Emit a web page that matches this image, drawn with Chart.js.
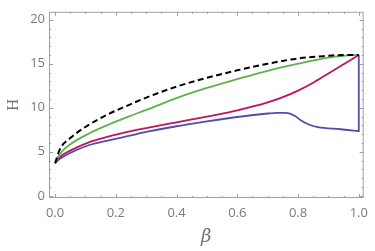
<!DOCTYPE html>
<html>
<head>
<meta charset="utf-8">
<script src="https://cdn.jsdelivr.net/npm/chart.js@4/dist/chart.umd.min.js"></script>
<style>
  html, body { margin: 0; padding: 0; background: #fff; }
  #wrap { width: 375px; height: 251px; }
</style>
</head>
<body>
<div id="wrap"><canvas id="chart" width="375" height="251"></canvas></div>
<script>
// values
var betaBlack = [0, 0.016, 0.048, 0.113, 0.177, 0.242, 0.3, 0.4, 0.5, 0.6, 0.7, 0.8, 0.9, 0.95, 1.0];
var hBlack    = [3.7, 5.3, 6.5, 8.1, 9.3, 10.3, 11.15, 12.4, 13.4, 14.25, 15.0, 15.6, 15.9, 16.0, 16.0];

var betaGreen = [0, 0.016, 0.048, 0.113, 0.177, 0.242, 0.3, 0.4, 0.5, 0.6, 0.7, 0.8, 0.9, 0.95, 1.0];
var hGreen    = [3.7, 4.76, 5.8, 7.1, 8.1, 9.0, 9.75, 11.1, 12.25, 13.25, 14.2, 15.0, 15.7, 15.9, 16.0];

var betaMagenta = [0, 0.016, 0.048, 0.113, 0.177, 0.242, 0.3, 0.4, 0.5, 0.6, 0.7, 0.75, 0.8, 0.85, 0.9, 0.95, 1.0];
var hMagenta    = [3.7, 4.4, 5.1, 6.1, 6.74, 7.3, 7.7, 8.35, 9.0, 9.7, 10.6, 11.2, 11.95, 12.85, 13.9, 14.95, 16.0];

var betaBlue = [0, 0.016, 0.048, 0.113, 0.177, 0.242, 0.3, 0.4, 0.5, 0.6, 0.7, 0.73, 0.76, 0.79, 0.81, 0.835, 0.865, 0.94, 0.99, 1.0, 1.0];
var hBlue    = [3.7, 4.2, 4.84, 5.77, 6.3, 6.8, 7.25, 7.9, 8.45, 8.95, 9.35, 9.43, 9.42, 9.07, 8.55, 8.1, 7.8, 7.56, 7.38, 7.35, 16.0];

var xTicks = [0, 0.2, 0.4, 0.6, 0.8, 1.0];
var yTicks = [0, 5, 10, 15, 20];

function pts(xs, ys) {
    var out = [];
    for (var i = 0; i < xs.length; i++) out.push({x: xs[i], y: ys[i]});
    return out;
}

// Mathematica style frame with inward ticks on all four sides
var framePlugin = {
    id: 'frame',
    afterDraw: function(chart) {
        var ctx = chart.ctx, a = chart.chartArea;
        var xs = chart.scales.x, ys = chart.scales.y;
        ctx.save();
        ctx.strokeStyle = '#a0a0a0';
        ctx.lineWidth = 1;
        ctx.strokeRect(a.left + 0.5, a.top + 0.5, a.right - a.left - 1, a.bottom - a.top - 1);
        ctx.beginPath();
        for (var v = 0; v <= 1.0001; v += 0.05) {
            var px = Math.round(xs.getPixelForValue(v)) + 0.5;
            var major = Math.abs(v * 5 - Math.round(v * 5)) < 0.001;
            var len = major ? 4 : 2;
            ctx.moveTo(px, a.bottom); ctx.lineTo(px, a.bottom - len);
            ctx.moveTo(px, a.top); ctx.lineTo(px, a.top + len);
        }
        for (var w = 0; w <= 20.001; w += 1) {
            var py = Math.round(ys.getPixelForValue(w)) + 0.5;
            var len2 = (w % 5 === 0) ? 4 : 2;
            ctx.moveTo(a.left, py); ctx.lineTo(a.left + len2, py);
            ctx.moveTo(a.right, py); ctx.lineTo(a.right - len2, py);
        }
        ctx.stroke();
        ctx.restore();
    }
};

var ctx = document.getElementById('chart').getContext('2d');
var myChart = new Chart(ctx, {
    type: 'scatter',
    data: {
        datasets: [{
            data: pts(betaBlack, hBlack),
            borderColor: '#000000',
            borderWidth: 2,
            borderDash: [6, 3.5]
        },
        {
            data: pts(betaGreen, hGreen),
            borderColor: '#5fb04f',
            borderWidth: 1.8
        },
        {
            data: pts(betaMagenta, hMagenta),
            borderColor: '#c0135f',
            borderWidth: 1.8
        },
        {
            data: pts(betaBlue, hBlue),
            borderColor: '#4f4fa8',
            borderWidth: 1.8
        }]
    },
    options: {
        responsive: false,
        animation: false,
        showLine: true,
        elements: {
            point: { radius: 0 },
            line: { cubicInterpolationMode: 'monotone', fill: false }
        },
        layout: { padding: { top: 1, right: 5, left: 0, bottom: 0 } },
        plugins: { legend: { display: false }, tooltip: { enabled: false } },
        scales: {
            x: {
                type: 'linear',
                min: -0.02,
                max: 1.016,
                afterBuildTicks: function(s) { s.ticks = xTicks.map(function(v) { return {value: v}; }); },
                afterFit: function(s) { s.height = 53; },
                grid: { display: false, drawTicks: false },
                border: { display: false },
                ticks: {
                    color: '#7a7a7a',
                    font: { family: 'Open Sans', size: 13 },
                    padding: 7,
                    maxRotation: 0,
                    callback: function(v) { return v.toFixed(1); }
                },
                title: {
                    display: true,
                    text: 'β',
                    color: '#707070',
                    font: { family: 'DejaVu Serif', style: 'italic', size: 18 },
                    padding: { top: 0, bottom: 3 }
                }
            },
            y: {
                min: -0.25,
                max: 20.9,
                afterBuildTicks: function(s) { s.ticks = yTicks.map(function(v) { return {value: v}; }); },
                afterFit: function(s) { s.width = 49; },
                grid: { display: false, drawTicks: false },
                border: { display: false },
                ticks: {
                    color: '#7a7a7a',
                    font: { family: 'Open Sans', size: 13 },
                    padding: 4
                },
                title: {
                    display: true,
                    text: 'H',
                    color: '#707070',
                    font: { family: 'Liberation Serif', size: 17 },
                    padding: { top: 3, bottom: 0 }
                }
            }
        }
    },
    plugins: [framePlugin]
});
</script>
</body>
</html>
